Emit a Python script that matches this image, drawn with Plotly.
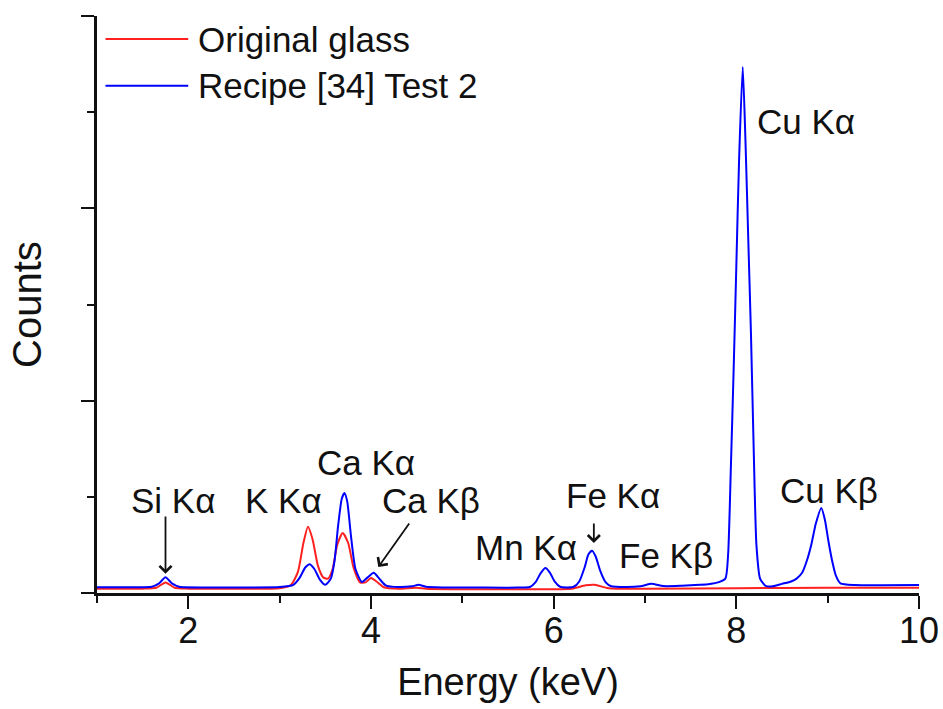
import plotly.graph_objects as go

# ---- data (energy in keV, counts in arbitrary units) ----
orig_energy = [1.0, 1.5, 1.65, 1.75, 1.85, 2.0, 2.5, 3.0, 3.12, 3.2, 3.26, 3.31, 3.36, 3.42, 3.48,
               3.53, 3.58, 3.63, 3.69, 3.75, 3.81, 3.88, 3.94, 4.0, 4.06, 4.14, 4.3, 4.5, 4.6, 5.0,
               5.8, 6.2, 6.35, 6.45, 6.6, 7.0, 8.0, 9.0, 10.0]
orig_counts = [45, 45, 55, 110, 55, 45, 45, 50, 80, 220, 520, 690, 560, 280, 160,
               150, 250, 500, 625, 520, 260, 110, 110, 156, 120, 60, 45, 55, 45, 40,
               40, 45, 80, 85, 50, 45, 50, 55, 55]

test_energy = [1.0, 1.4, 1.6, 1.68, 1.75, 1.82, 1.9, 2.2, 2.6, 3.0, 3.15, 3.22, 3.28, 3.33, 3.38,
               3.44, 3.5, 3.56, 3.6, 3.64, 3.68, 3.71, 3.74, 3.78, 3.83, 3.9, 3.96, 4.03, 4.09,
               4.16, 4.3, 4.45, 4.52, 4.6, 4.8, 5.2, 5.6, 5.74, 5.8, 5.86, 5.91, 5.96, 6.01,
               6.07, 6.15, 6.22, 6.28, 6.34, 6.38, 6.42, 6.46, 6.51, 6.57, 6.63, 6.8, 6.95,
               7.07, 7.2, 7.4, 7.6, 7.71, 7.8, 7.88, 7.91, 7.94, 7.97, 8.0, 8.03, 8.07, 8.1,
               8.13, 8.16, 8.19, 8.22, 8.26, 8.32, 8.4, 8.5, 8.6, 8.66, 8.72, 8.77, 8.82, 8.87,
               8.93, 8.97, 9.01, 9.05, 9.09, 9.14, 9.3, 9.6, 10.0]
test_counts = [60, 60, 65, 100, 165, 100, 65, 58, 58, 62, 85, 160, 265, 300, 250,
               140, 85, 150, 330, 700, 980, 1040, 950, 600, 250, 114, 160, 210, 150,
               80, 62, 70, 85, 65, 58, 56, 56, 62, 110, 210, 260, 210, 120,
               65, 58, 65, 120, 270, 400, 440, 380, 230, 110, 70, 62, 70,
               95, 72, 75, 85, 94, 110, 150, 400, 1300, 2300, 3400, 4500, 5470, 4700,
               3700, 2700, 1500, 500, 150, 75, 70, 95, 120, 150, 210, 330, 500, 720,
               884, 760, 530, 330, 180, 100, 82, 80, 83]

series_names = ["Original glass", "Recipe [34] Test 2"]
series_colors = ["#ff2020", "#0000ff"]

x_tickvals = [2, 4, 6, 8, 10]
x_minor = [1, 3, 5, 7, 9]
y_tickvals = [0, 2000, 4000, 6000]
y_minor = [1000, 3000, 5000]

# peak labels: (text, x, y)
peak_labels = [
    ("Si K\u03b1", 1.837, 967),
    ("K K\u03b1", 3.04, 967),
    ("Ca K\u03b1", 3.94, 1362),
    ("Ca K\u03b2", 4.66, 957),
    ("Mn K\u03b1", 5.70, 468),
    ("Fe K\u03b1", 6.65, 1019),
    ("Fe K\u03b2", 7.23, 385),
    ("Cu K\u03b1", 8.76, 4898),
    ("Cu K\u03b2", 9.01, 1071),
]
# arrows: (head x, head y, tail x, tail y)
peak_arrows = [
    (1.75, 200, 1.75, 811),
    (4.08, 270, 4.43, 738),
    (6.44, 520, 6.44, 738),
]

FONT = "Arial, Liberation Sans, sans-serif"
TXT = "#111111"

fig = go.Figure()
fig.add_trace(go.Scatter(x=orig_energy, y=orig_counts, mode="lines", name=series_names[0],
                         line=dict(color=series_colors[0], width=2, shape="spline", smoothing=0.6)))
fig.add_trace(go.Scatter(x=test_energy, y=test_counts, mode="lines", name=series_names[1],
                         line=dict(color=series_colors[1], width=2, shape="spline", smoothing=0.6)))

annotations = []
for t, x, y in peak_labels:
    annotations.append(dict(text=t, x=x, y=y, xref="x", yref="y", showarrow=False,
                            font=dict(family=FONT, size=35, color=TXT),
                            xanchor="center", yanchor="middle"))
for hx, hy, tx, ty in peak_arrows:
    annotations.append(dict(text="", x=hx, y=hy, ax=tx, ay=ty, xref="x", yref="y",
                            axref="x", ayref="y", showarrow=True, arrowhead=4,
                            arrowsize=1.3, arrowwidth=1.8, arrowcolor="#111111"))

# manual legend (long line samples as in the reference)
shapes = []
leg_y = [0.960, 0.879]
for i, name in enumerate(series_names):
    shapes.append(dict(type="line", xref="paper", yref="paper", x0=0.0103, x1=0.111,
                       y0=leg_y[i], y1=leg_y[i], line=dict(color=series_colors[i], width=2)))
    annotations.append(dict(text=name, xref="paper", yref="paper", x=0.121, y=leg_y[i],
                            xanchor="left", yanchor="middle", showarrow=False,
                            font=dict(family=FONT, size=35, color=TXT)))

fig.update_layout(
    width=943, height=709,
    margin=dict(l=97, r=24, t=16, b=116, autoexpand=False),
    paper_bgcolor="white", plot_bgcolor="white",
    showlegend=False,
    font=dict(family=FONT, color=TXT),
    annotations=annotations,
    shapes=shapes,
    xaxis=dict(range=[1, 10], tickvals=x_tickvals, ticktext=[str(v) for v in x_tickvals],
               automargin=False, ticklabelstandoff=-9,
               ticks="outside", ticklen=13, tickwidth=2, tickcolor="#111111",
               minor=dict(tickvals=x_minor, ticks="outside", ticklen=7, tickwidth=2, tickcolor="#111111"),
               showline=True, linecolor="#111111", linewidth=2.5, showgrid=False, zeroline=False,
               tickfont=dict(family=FONT, size=36, color=TXT),
               title=dict(text="Energy (keV)", font=dict(family=FONT, size=38, color=TXT), standoff=19)),
    yaxis=dict(range=[0, 6000], tickvals=y_tickvals, showticklabels=False,
               automargin=False,
               ticks="outside", ticklen=13, tickwidth=2, tickcolor="#111111",
               minor=dict(tickvals=y_minor, ticks="outside", ticklen=7, tickwidth=2, tickcolor="#111111"),
               showline=True, linecolor="#111111", linewidth=2.5, showgrid=False, zeroline=False,
               title=dict(text="Counts", font=dict(family=FONT, size=40, color=TXT), standoff=28)),
)

fig.write_html("out.html",
               config={"displayModeBar": False},
               post_script="document.body.style.margin='0px';document.body.style.overflow='hidden';")
